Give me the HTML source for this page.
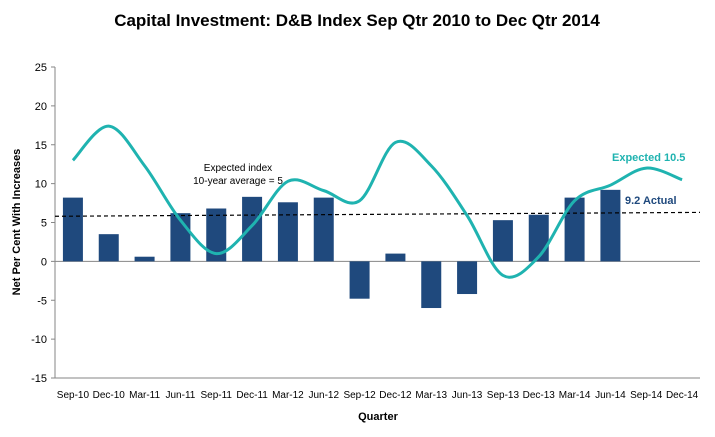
<!DOCTYPE html>
<html><head><meta charset="utf-8"><style>
body{margin:0;background:#fff;font-family:"Liberation Sans",sans-serif}
</style></head><body>
<svg id="c" width="715" height="432" xmlns="http://www.w3.org/2000/svg">
<text x="357" y="26" text-anchor="middle" font-size="17" font-weight="bold" fill="#000">Capital Investment: D&amp;B Index Sep Qtr 2010 to Dec Qtr 2014</text>
<text transform="translate(20,222) rotate(-90)" text-anchor="middle" font-size="11" font-weight="bold">Net Per Cent With Increases</text>
<text x="378" y="420" text-anchor="middle" font-size="11" font-weight="bold">Quarter</text>
<g id="axes"></g><g id="marks"></g>
<text x="238" y="171" text-anchor="middle" font-size="10" fill="#000">Expected index</text>
<text x="238" y="184" text-anchor="middle" font-size="10" fill="#000">10-year average = 5</text>
<text x="612" y="161" font-size="11" font-weight="bold" fill="#1fb3b0">Expected  10.5</text>
<text x="625" y="204" font-size="11" font-weight="bold" fill="#1f497d">9.2  Actual</text>
</svg>
<script>
const categories=["Sep-10","Dec-10","Mar-11","Jun-11","Sep-11","Dec-11","Mar-12","Jun-12","Sep-12","Dec-12","Mar-13","Jun-13","Sep-13","Dec-13","Mar-14","Jun-14","Sep-14","Dec-14"];
const actual=[8.2,3.5,0.6,6.2,6.8,8.3,7.6,8.2,-4.8,1.0,-6.0,-4.2,5.3,6.0,8.2,9.2,null,null];
const expected=[13,17.4,12.3,5.3,1.0,4.6,10.3,9.1,7.8,15.3,12.3,5.9,-1.8,0.6,7.8,9.8,12,10.5];
const avgStart=5.8, avgEnd=6.3;
const yTicks=[-15,-10,-5,0,5,10,15,20,25];
const NS="http://www.w3.org/2000/svg";
const L=55,R=700,T=67,B=378,yMin=-15,yMax=25;
const bw=(R-L)/categories.length;
const x=i=>L+bw*(i+0.5);
const y=v=>B-(v-yMin)/(yMax-yMin)*(B-T);
function mk(tag,attrs,parent){const e=document.createElementNS(NS,tag);for(const k in attrs)e.setAttribute(k,attrs[k]);document.getElementById(parent).appendChild(e);return e;}
let e;
e=mk("line",{x1:L,y1:T,x2:L,y2:B,stroke:"#868686"},"axes");


yTicks.forEach(t=>{
 e=mk("line",{x1:L-4,y1:y(t),x2:L,y2:y(t),stroke:"#868686"},"axes");
 
 
 e=mk("text",{x:L-8,y:y(t)+4,"text-anchor":"end","font-size":11,fill:"#000"},"axes");
 e.textContent=t;
 
 
});
e=mk("line",{x1:L,y1:y(0),x2:R,y2:y(0),stroke:"#868686"},"axes");


e=mk("line",{x1:L,y1:B,x2:R,y2:B,stroke:"#868686"},"axes");


categories.forEach((c,i)=>{
 e=mk("text",{x:x(i),y:B+20,"text-anchor":"middle","font-size":10,fill:"#000"},"axes");
 e.textContent=c;
 
 
});
actual.forEach((v,i)=>{
 if(v===null)return;
 const w=20;
 e=mk("rect",{x:x(i)-w/2,y:Math.min(y(v),y(0)),width:w,height:Math.abs(y(v)-y(0)),fill:"#1f497d"},"marks");
 
 
});
e=mk("line",{x1:L,y1:y(avgStart),x2:R,y2:y(avgEnd),stroke:"#000","stroke-dasharray":"4,3","stroke-width":1.2},"marks");


const P=expected.map((v,i)=>[x(i),y(v)]);
let d="M"+P[0][0]+","+P[0][1];
for(let i=0;i<P.length-1;i++){
 const p0=P[Math.max(0,i-1)],p1=P[i],p2=P[i+1],p3=P[Math.min(P.length-1,i+2)];
 const c1=[p1[0]+(p2[0]-p0[0])/6,p1[1]+(p2[1]-p0[1])/6];
 const c2=[p2[0]-(p3[0]-p1[0])/6,p2[1]-(p3[1]-p1[1])/6];
 d+=" C"+c1+" "+c2+" "+p2;
}
e=mk("path",{d:d,fill:"none",stroke:"#1fb3b0","stroke-width":3},"marks");


</script>
</body></html>
